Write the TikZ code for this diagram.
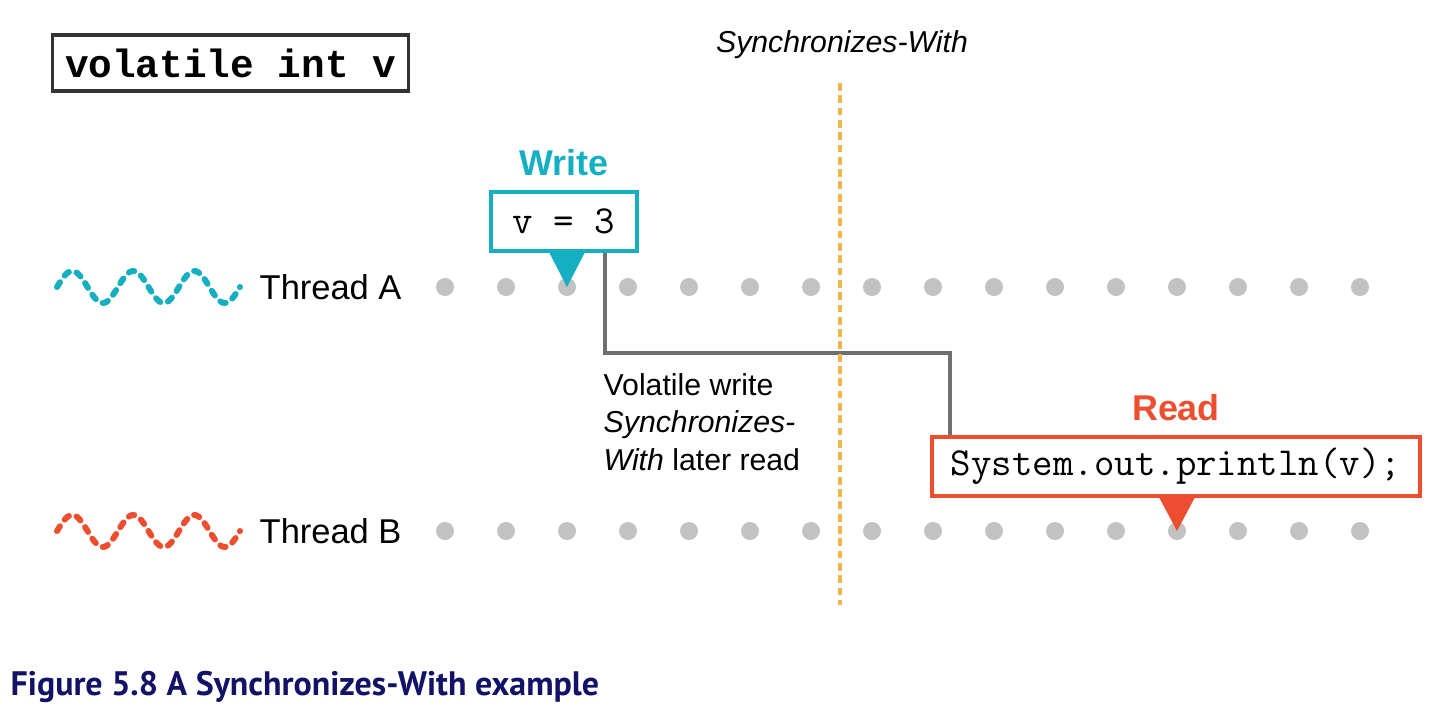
\documentclass[tikz,border=0pt]{standalone}
\usepackage{fontspec}
\setmainfont{Liberation Sans}
\newfontfamily\declfont{Liberation Mono}
\newfontfamily\capfont{PT Sans}
\usepackage{xcolor}
\usetikzlibrary{positioning,calc}
\definecolor{wcol}{RGB}{20,176,193}
\definecolor{rcol}{RGB}{238,78,48}
\definecolor{dotcol}{RGB}{194,194,194}
\definecolor{linkcol}{RGB}{112,112,112}
\definecolor{synccol}{RGB}{240,182,72}
\definecolor{capcol}{RGB}{18,18,102}

\begin{document}
\begin{tikzpicture}[x=0.01cm,y=-0.01cm,
  decl/.style={draw=black!80,line width=0.9pt,minimum width=3.55cm,minimum height=0.56cm,inner sep=0pt,font=\fontsize{11.2}{13}\selectfont\declfont\bfseries},
  codebox/.style={draw=#1,line width=1.2pt,fill=white,minimum height=0.59cm,inner sep=0pt,font=\fontsize{11.3}{13}\selectfont\ttfamily},
  tag/.style={text=#1,font=\fontsize{10.2}{12}\selectfont\bfseries,inner sep=1pt},
  lbl/.style={font=\fontsize{9.8}{12}\selectfont,inner sep=0pt},
  dot/.style={circle,fill=dotcol,minimum size=0.18cm,inner sep=0pt},
  wave/.style={draw=#1,line width=1.7pt,line cap=round,dash pattern=on 1.6pt off 2.3pt},
  link/.style={draw=linkcol,line width=1.1pt},
  sync/.style={draw=synccol,line width=1.1pt,dash pattern=on 2.2pt off 1.3pt}]
  \useasboundingbox (0,0) rectangle (1439,712);
  \node[decl] (decl) at (230.5,63) {volatile int v};
  \node[font=\fontsize{8.6}{10}\selectfont\itshape,inner sep=0pt] (sw) at (842,45) {Synchronizes-With};
  \node[lbl,anchor=west] (ta) at (259,287) {Thread A};
  \node[lbl,anchor=west] (tb) at (259,531) {Thread B};
  \draw[wave=wcol] plot[domain=0:1080,samples=120] ({57+\x/360*61},{287-16*sin(\x)});
  \draw[wave=rcol] plot[domain=0:1080,samples=120] ({57+\x/360*61},{531-16*sin(\x)});
  \foreach \i in {0,...,15} {
    \node[dot] (a\i) at (445+61*\i,287) {};
    \node[dot] (b\i) at (445+61*\i,531) {};
  }
  \node[codebox=wcol,minimum width=1.46cm] (wbox) at (564,221.5) {v = 3};
  \node[tag=wcol,above=0.1cm of wbox] (wtag) {Write};
  \node[codebox=rcol,minimum width=4.88cm] (rbox) at (1176,466.5) {System.out.println(v);};
  \node[tag=rcol,above=0.1cm of rbox] (rtag) {Read};
  \fill[wcol] ($(wbox.south -| a2)+(-18,-1)$) -- ($(wbox.south -| a2)+(18,-1)$) -- (a2.center) -- cycle;
  \fill[rcol] ($(rbox.south -| b12)+(-18,-1)$) -- ($(rbox.south -| b12)+(18,-1)$) -- (b12.center) -- cycle;
  \coordinate (turn) at (0,353);
  \draw[link] ([xshift=-0.34cm]wbox.south east) -- ([xshift=-0.34cm]wbox.south east |- turn) -| ([xshift=0.2cm]rbox.north west);
  \node[font=\fontsize{8.6}{10.6}\selectfont,align=left,anchor=north west,inner sep=0pt] (note) at (603,373)
    {Volatile write\\\textit{Synchronizes-}\\\textit{With} later read};
  \coordinate (synctop) at (840,83);
  \coordinate (syncend) at (840,605);
  \draw[sync] (synctop) -- (syncend);
  \node[anchor=west,inner sep=0pt,text=capcol,font=\capfont\bfseries\fontsize{9.65}{12}\selectfont] (cap) at (10,687) {Figure 5.8 A Synchronizes-With example};
\end{tikzpicture}
\end{document}
